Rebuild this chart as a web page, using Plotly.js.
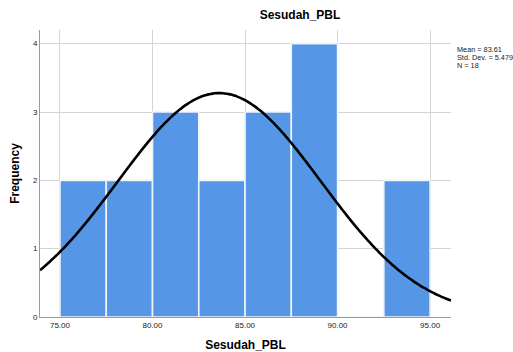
<!DOCTYPE html>
<html><head><meta charset="utf-8">
<script src="https://cdn.plot.ly/plotly-3.0.1.min.js"></script>
<style>html,body{margin:0;padding:0;background:#fff}#chart{width:513px;height:352px}</style>
</head><body><div id="chart"></div>
<script>
// Histogram bins (lower edges) and frequencies
const binStarts = [75, 77.5, 80, 82.5, 85, 87.5, 90, 92.5];
const binWidth = 2.5;
const counts = [2, 2, 3, 2, 3, 4, 0, 2];
// Summary statistics shown on the chart
const meanVal = 83.61;
const sdVal = 5.479;
const nVal = 18;
const xTicks = [75, 80, 85, 90, 95];
const xTickLabels = ['75.00', '80.00', '85.00', '90.00', '95.00'];
const yTicks = [0, 1, 2, 3, 4];
const statLines = ['Mean = ' + meanVal.toFixed(2), 'Std. Dev. = ' + sdVal.toFixed(3), 'N = ' + nVal];

const xMin = 73.92, xMax = 96.13;
const centers = binStarts.map(b => b + binWidth / 2);

// Fitted normal curve from the displayed mean, sd and N
const curveX = [], curveY = [];
for (let i = 0; i <= 200; i++) {
  const x = xMin + (xMax - xMin) * i / 200;
  const z = (x - meanVal) / sdVal;
  curveX.push(x);
  curveY.push(nVal * binWidth * Math.exp(-0.5 * z * z) / (sdVal * Math.sqrt(2 * Math.PI)));
}

const font = 'Liberation Sans, Arial, sans-serif';
const data = [
  {type: 'bar', x: centers, y: counts, width: binWidth,
   marker: {color: '#5596e6', line: {color: '#f0f3f8', width: 1.6}},
   hoverinfo: 'x+y', showlegend: false},
  {type: 'scatter', mode: 'lines', x: curveX, y: curveY,
   line: {color: '#000000', width: 2.6, shape: 'spline'}, showlegend: false, hoverinfo: 'skip'}
];

const statY = [0.932, 0.904, 0.876];
const annotations = statLines.map((t, i) => ({
  xref: 'paper', yref: 'paper', x: 1.010, y: statY[i], xanchor: 'left', yanchor: 'middle',
  align: 'left', showarrow: false, text: t,
  font: {size: 7.3, family: font, color: '#222'}
}));

const layout = {
  width: 513, height: 352,
  margin: {l: 40, r: 62, t: 30, b: 35},
  paper_bgcolor: '#ffffff', plot_bgcolor: '#ffffff',
  font: {family: font, color: '#000'},
  title: {text: '<b>Sesudah_PBL</b>', font: {size: 12, family: font, color: '#000'},
          x: 300 / 513, xanchor: 'center', xref: 'container', y: 1 - 15 / 352, yanchor: 'middle', yref: 'container'},
  xaxis: {range: [xMin, xMax], tickvals: xTicks, ticktext: xTickLabels,
          tickfont: {size: 8, family: font, color: '#222'},
          showgrid: true, gridcolor: '#d4d4d4', gridwidth: 1,
          showline: true, linecolor: '#9a9a9a', linewidth: 1, zeroline: false,
          ticks: '', ticklen: 0,
          title: {text: '<b>Sesudah_PBL</b>', font: {size: 12, family: font, color: '#000'}, standoff: 13}},
  yaxis: {range: [0, 4.2], tickvals: yTicks, ticktext: yTicks.map(String),
          tickfont: {size: 8, family: font, color: '#222'},
          showgrid: true, gridcolor: '#d4d4d4', gridwidth: 1,
          showline: true, linecolor: '#9a9a9a', linewidth: 1, zeroline: false,
          ticks: '', ticklen: 0,
          title: {text: '<b>Frequency</b>', font: {size: 12, family: font, color: '#000'}, standoff: 10}},
  annotations: annotations
};
Plotly.newPlot('chart', data, layout, {displayModeBar: false, staticPlot: true});
</script></body></html>
